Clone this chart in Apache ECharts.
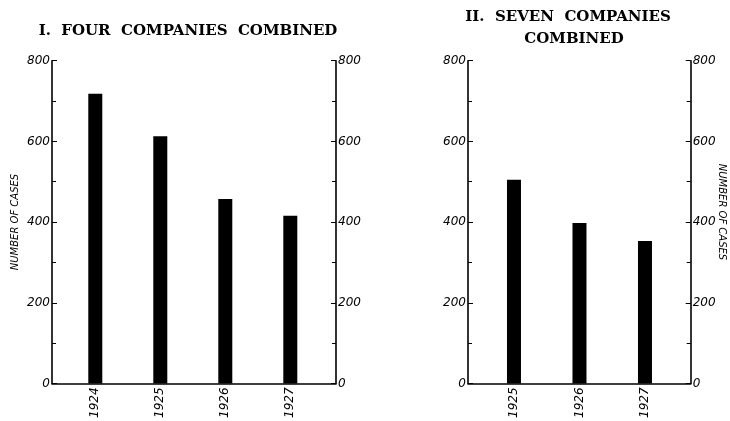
<!DOCTYPE html>
<html><head><meta charset="utf-8">
<script src="https://cdn.jsdelivr.net/npm/echarts@6/dist/echarts.min.js"></script>
<style>html,body{margin:0;padding:0;background:#fff}#c{width:730px;height:421px}</style>
</head><body><div id="c"></div>
<script>
const yearsA = [1924, 1925, 1926, 1927];
const casesA = [718, 613, 457, 416];
const yearsB = [1925, 1926, 1927];
const casesB = [505, 398, 353];
const titleA = 'I.  FOUR  COMPANIES  COMBINED';
const titleB1 = 'II.  SEVEN  COMPANIES';
const titleB2 = 'COMBINED';
const axisName = 'NUMBER OF CASES';

const chart = echarts.init(document.getElementById('c'), null, {renderer: 'canvas'});
const lblFont = {color: '#000', fontFamily: 'DejaVu Sans', fontStyle: 'italic', fontSize: 12};
function yAx(grid, pos) {
  return {
    type: 'value', gridIndex: grid, position: pos, min: 0, max: 800, interval: 200,
    axisLine: {show: true, lineStyle: {color: '#000', width: 1.6}},
    axisTick: {show: true, inside: true, length: 5, lineStyle: {color: '#000', width: 1}},
    minorTick: {show: true, splitNumber: 2, length: 4, lineStyle: {color: '#000', width: 1}},
    splitLine: {show: false}, minorSplitLine: {show: false},
    axisLabel: Object.assign({margin: 2}, lblFont)
  };
}
function xAx(grid, min, max, years) {
  return {
    type: 'value', gridIndex: grid, min: min, max: max,
    axisLine: {show: true, onZero: false, lineStyle: {color: '#000', width: 1.6}},
    axisTick: {show: false}, splitLine: {show: false},
    axisLabel: Object.assign({customValues: years, rotate: 90, margin: 4,
      formatter: v => String(Math.round(v))}, lblFont)
  };
}
const titleStyle = {fontFamily: 'DejaVu Serif', fontWeight: 'bold', fontSize: 15, color: '#000'};
chart.setOption({
  animation: false,
  backgroundColor: '#fff',
  title: [
    {text: titleA, left: 188, top: 24, padding: 0, textAlign: 'center', textStyle: titleStyle},
    {text: titleB1, left: 568, top: 10, padding: 0, textAlign: 'center', textStyle: titleStyle},
    {text: titleB2, left: 574, top: 32, padding: 0, textAlign: 'center', textStyle: titleStyle}
  ],
  grid: [
    {left: 52, right: 394, top: 60.7, bottom: 34.3},
    {left: 468, right: 39.3, top: 60.7, bottom: 33.3}
  ],
  xAxis: [
    xAx(0, 1923.334, 1927.703, yearsA),
    xAx(1, 1924.298, 1927.698, yearsB)
  ],
  yAxis: [yAx(0, 'left'), yAx(0, 'right'), yAx(1, 'left'), yAx(1, 'right')],
  series: [
    {type: 'bar', xAxisIndex: 0, yAxisIndex: 0, barWidth: 14,
     itemStyle: {color: '#000'}, data: yearsA.map((y, i) => [y, casesA[i]])},
    {type: 'bar', xAxisIndex: 1, yAxisIndex: 2, barWidth: 14,
     itemStyle: {color: '#000'}, data: yearsB.map((y, i) => [y, casesB[i]])}
  ],
  graphic: [
    {type: 'text', x: 15, y: 222, rotation: Math.PI / 2,
     style: {text: axisName, font: 'italic 10px "DejaVu Sans"', fill: '#000',
             align: 'center', verticalAlign: 'middle'}},
    {type: 'text', x: 722, y: 212, rotation: -Math.PI / 2,
     style: {text: axisName, font: 'italic 10px "DejaVu Sans"', fill: '#000',
             align: 'center', verticalAlign: 'middle'}}
  ]
});
</script></body></html>
